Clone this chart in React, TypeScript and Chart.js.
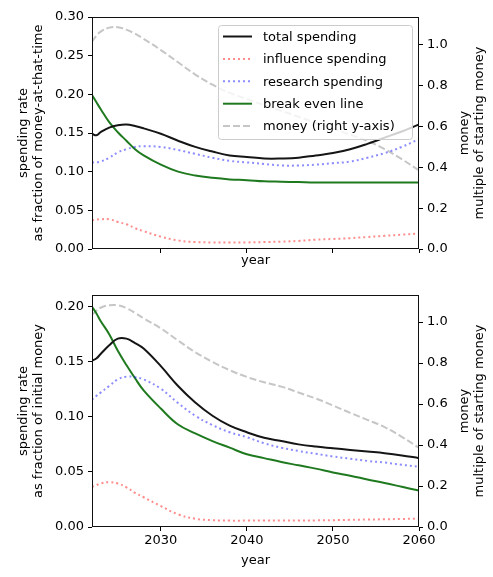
import { useEffect, useRef } from 'react';
import { Chart, registerables } from 'chart.js';

Chart.register(...registerables);

Chart.defaults.font.family = '"DejaVu Sans", sans-serif';
Chart.defaults.font.size = 13;
Chart.defaults.color = '#000';

// sample years (shared by both panels)
const years = [
  2022, 2022.5, 2023, 2024, 2025, 2026, 2027, 2028, 2030, 2032, 2034, 2036,
  2038, 2040, 2042, 2044, 2046, 2048, 2050, 2052, 2054, 2056, 2058, 2060,
];

// top panel: fraction of money-at-that-time
const topTotal = [
  0.149, 0.147, 0.151, 0.157, 0.16, 0.161, 0.159, 0.156, 0.149, 0.14, 0.132, 0.126,
  0.121, 0.119, 0.117, 0.117, 0.118, 0.121, 0.124, 0.129, 0.136, 0.144, 0.152, 0.161,
];
const topInfluence = [
  0.037, 0.038, 0.0385, 0.0385, 0.035, 0.032, 0.027, 0.023, 0.016, 0.011, 0.009, 0.0085,
  0.0085, 0.0085, 0.009, 0.0095, 0.0105, 0.012, 0.013, 0.014, 0.0155, 0.017, 0.0185, 0.02,
];
const topResearch = [
  0.112, 0.112, 0.113, 0.118, 0.125, 0.129, 0.132, 0.133, 0.132, 0.128, 0.123, 0.118,
  0.114, 0.112, 0.11, 0.108, 0.108, 0.109, 0.111, 0.113, 0.118, 0.124, 0.132, 0.142,
];
const topBreakEven = [
  0.199, 0.19, 0.181, 0.164, 0.151, 0.14, 0.129, 0.121, 0.109, 0.1, 0.095, 0.092,
  0.09, 0.089, 0.0875, 0.087, 0.0865, 0.086, 0.086, 0.086, 0.086, 0.086, 0.086, 0.086,
];
const topMoney = [
  1.016, 1.045, 1.065, 1.085, 1.087, 1.075, 1.055, 1.03, 0.975, 0.915, 0.855, 0.805,
  0.765, 0.735, 0.705, 0.677, 0.648, 0.619, 0.59, 0.56, 0.53, 0.49, 0.44, 0.385,
];

// bottom panel: fraction of initial money
const botTotal = [
  0.151, 0.153, 0.157, 0.165, 0.171, 0.171, 0.167, 0.162, 0.146, 0.128, 0.113, 0.101,
  0.092, 0.086, 0.081, 0.078, 0.075, 0.073, 0.0715, 0.07, 0.0685, 0.067, 0.065, 0.0625,
];
const botInfluence = [
  0.0365, 0.038, 0.0395, 0.0407, 0.0395, 0.036, 0.031, 0.027, 0.019, 0.0115, 0.0075, 0.0062,
  0.0058, 0.0058, 0.0058, 0.0059, 0.006, 0.006, 0.0062, 0.0065, 0.0068, 0.007, 0.0073, 0.0076,
];
const botResearch = [
  0.1155, 0.119, 0.122, 0.128, 0.134, 0.1365, 0.136, 0.134, 0.1255, 0.1125, 0.101, 0.0925,
  0.086, 0.0815, 0.076, 0.072, 0.069, 0.0665, 0.064, 0.062, 0.06, 0.0585, 0.0565, 0.0547,
];
const botBreakEven = [
  0.2, 0.194, 0.187, 0.175, 0.16, 0.147, 0.135, 0.124, 0.1075, 0.093, 0.085, 0.078,
  0.072, 0.066, 0.0625, 0.059, 0.056, 0.053, 0.0495, 0.0465, 0.0432, 0.04, 0.0365, 0.033,
];
const botMoney = [
  1.035, 1.055, 1.07, 1.082, 1.082, 1.068, 1.045, 1.018, 0.969, 0.91, 0.853, 0.805,
  0.765, 0.732, 0.706, 0.685, 0.656, 0.627, 0.593, 0.557, 0.523, 0.487, 0.44, 0.386,
];

const yearTicks = [2030, 2040, 2050, 2060];
const rateTicksTop = [0, 0.05, 0.1, 0.15, 0.2, 0.25, 0.3];
const rateTicksBottom = [0, 0.05, 0.1, 0.15, 0.2];
const moneyTicks = [0, 0.2, 0.4, 0.6, 0.8, 1.0];

const seriesStyle = [
  { label: 'total spending', color: '#151515', dash: [] as number[] },
  { label: 'influence spending', color: 'rgba(255,0,0,0.45)', dash: [2, 3] },
  { label: 'research spending', color: 'rgba(0,0,255,0.45)', dash: [2, 3] },
  { label: 'break even line', color: '#1f7a1f', dash: [] as number[] },
  { label: 'money (right y-axis)', color: 'rgba(128,128,128,0.45)', dash: [7, 3] },
];

const FONT = '13px "DejaVu Sans", sans-serif';

const framePlugin = {
  id: 'frame',
  afterDraw(chart: any, _args: any, opts: any) {
    const { ctx, chartArea: a } = chart;
    ctx.save();
    ctx.strokeStyle = '#111';
    ctx.lineWidth = 1;
    const l = Math.round(a.left) + 0.5;
    const t = Math.round(a.top) + 0.5;
    const r = Math.round(a.right) - 0.5;
    const b = Math.round(a.bottom) - 0.5;
    ctx.strokeRect(l, t, r - l, b - t);

    ctx.font = FONT;
    ctx.fillStyle = '#000';
    ctx.textAlign = 'center';
    ctx.textBaseline = 'alphabetic';
    const cy = (a.top + a.bottom) / 2;
    const vertical = (lines: string[], x0: number) => {
      lines.forEach((line, i) => {
        ctx.save();
        ctx.translate(x0 + i * 15, cy);
        ctx.rotate(-Math.PI / 2);
        ctx.fillText(line, 0, 0);
        ctx.restore();
      });
    };
    vertical(opts.left, 26.5);
    vertical(opts.right, 468);
    ctx.fillText('year', (a.left + a.right) / 2, a.bottom + opts.xGap);

    if (opts.legend) {
      ctx.beginPath();
      ctx.roundRect(218.5, 25.5, 194, 114, 3);
      ctx.fillStyle = 'rgba(255,255,255,0.8)';
      ctx.fill();
      ctx.strokeStyle = '#cccccc';
      ctx.stroke();
      ctx.textAlign = 'left';
      ctx.textBaseline = 'middle';
      seriesStyle.forEach((s, i) => {
        const y = 36.5 + i * 22.4;
        ctx.beginPath();
        ctx.setLineDash(s.dash);
        ctx.strokeStyle = s.color;
        ctx.lineWidth = 2;
        ctx.moveTo(223, y);
        ctx.lineTo(252, y);
        ctx.stroke();
        ctx.setLineDash([]);
        ctx.fillStyle = '#000';
        ctx.fillText(s.label, 263, y + 1);
      });
    }
    ctx.restore();
  },
};

type PanelProps = {
  height: number;
  top: number;
  padTop: number;
  xHeight: number;
  showYears: boolean;
  xGap: number;
  rateMax: number;
  moneyMax: number;
  rateTicks: number[];
  series: number[][];
  leftTitle: string[];
  legend: boolean;
};

function Panel(p: PanelProps) {
  const canvasRef = useRef<HTMLCanvasElement>(null);
  const chartRef = useRef<Chart | null>(null);

  useEffect(() => {
    if (!canvasRef.current) return;
    chartRef.current?.destroy();

    const tickGrid = {
      display: true,
      drawOnChartArea: false,
      drawTicks: true,
      tickLength: 4,
      color: '#000',
      tickColor: '#000',
      lineWidth: 1,
    };

    chartRef.current = new Chart(canvasRef.current, {
      type: 'line',
      data: {
        datasets: p.series.map((vals, i) => ({
          label: seriesStyle[i].label,
          data: years.map((x, j) => ({ x, y: vals[j] })),
          borderColor: seriesStyle[i].color,
          borderDash: seriesStyle[i].dash,
          borderWidth: 2,
          borderCapStyle: 'butt',
          pointRadius: 0,
          fill: false,
          tension: 0.4,
          yAxisID: i === 4 ? 'y1' : 'y',
        })),
      },
      options: {
        responsive: true,
        maintainAspectRatio: false,
        animation: false,
        events: [],
        layout: { padding: { top: p.padTop, left: 0, right: 0, bottom: 0 } },
        plugins: {
          legend: { display: false },
          tooltip: { enabled: false },
          frame: { left: p.leftTitle, right: ['money', 'multiple of starting money'], xGap: p.xGap, legend: p.legend },
        } as any,
        scales: {
          x: {
            type: 'linear',
            min: 2022,
            max: 2060,
            afterBuildTicks: (s: any) => {
              s.ticks = yearTicks.map((value) => ({ value }));
            },
            afterFit: (s: any) => {
              s.height = p.xHeight;
            },
            grid: tickGrid,
            border: { display: false },
            ticks: { display: p.showYears, padding: 2, callback: (v: any) => String(v) },
          },
          y: {
            position: 'left',
            min: 0,
            max: p.rateMax,
            afterBuildTicks: (s: any) => {
              s.ticks = p.rateTicks.map((value) => ({ value }));
            },
            afterFit: (s: any) => {
              s.width = 92;
            },
            grid: tickGrid,
            border: { display: false },
            ticks: { padding: 4, callback: (v: any) => Number(v).toFixed(2) },
          },
          y1: {
            position: 'right',
            min: 0,
            max: p.moneyMax,
            afterBuildTicks: (s: any) => {
              s.ticks = moneyTicks.map((value) => ({ value }));
            },
            afterFit: (s: any) => {
              s.width = 74;
            },
            grid: tickGrid,
            border: { display: false },
            ticks: { padding: 4, callback: (v: any) => Number(v).toFixed(1) },
          },
        },
      },
      plugins: [framePlugin],
    } as any);

    return () => {
      chartRef.current?.destroy();
      chartRef.current = null;
    };
  }, []);

  return (
    <div style={{ position: 'absolute', left: 0, top: p.top, width: 493, height: p.height }}>
      <canvas ref={canvasRef} style={{ display: 'block', width: '100%', height: '100%' }} />
    </div>
  );
}

export default function App() {
  return (
    <div style={{ position: 'absolute', left: 0, top: 0, width: 493, height: 577, background: '#fff' }}>
      <Panel
        height={280}
        top={0}
        padTop={17}
        xHeight={31}
        showYears={false}
        xGap={15}
        rateMax={0.3}
        moneyMax={1.137}
        rateTicks={rateTicksTop}
        series={[topTotal, topInfluence, topResearch, topBreakEven, topMoney]}
        leftTitle={['spending rate', 'as fraction of money-at-that-time']}
        legend={true}
      />
      <Panel
        height={297}
        top={280}
        padTop={15}
        xHeight={50}
        showYears={true}
        xGap={37}
        rateMax={0.2106}
        moneyMax={1.132}
        rateTicks={rateTicksBottom}
        series={[botTotal, botInfluence, botResearch, botBreakEven, botMoney]}
        leftTitle={['spending rate', 'as fraction of initial money']}
        legend={false}
      />
    </div>
  );
}
